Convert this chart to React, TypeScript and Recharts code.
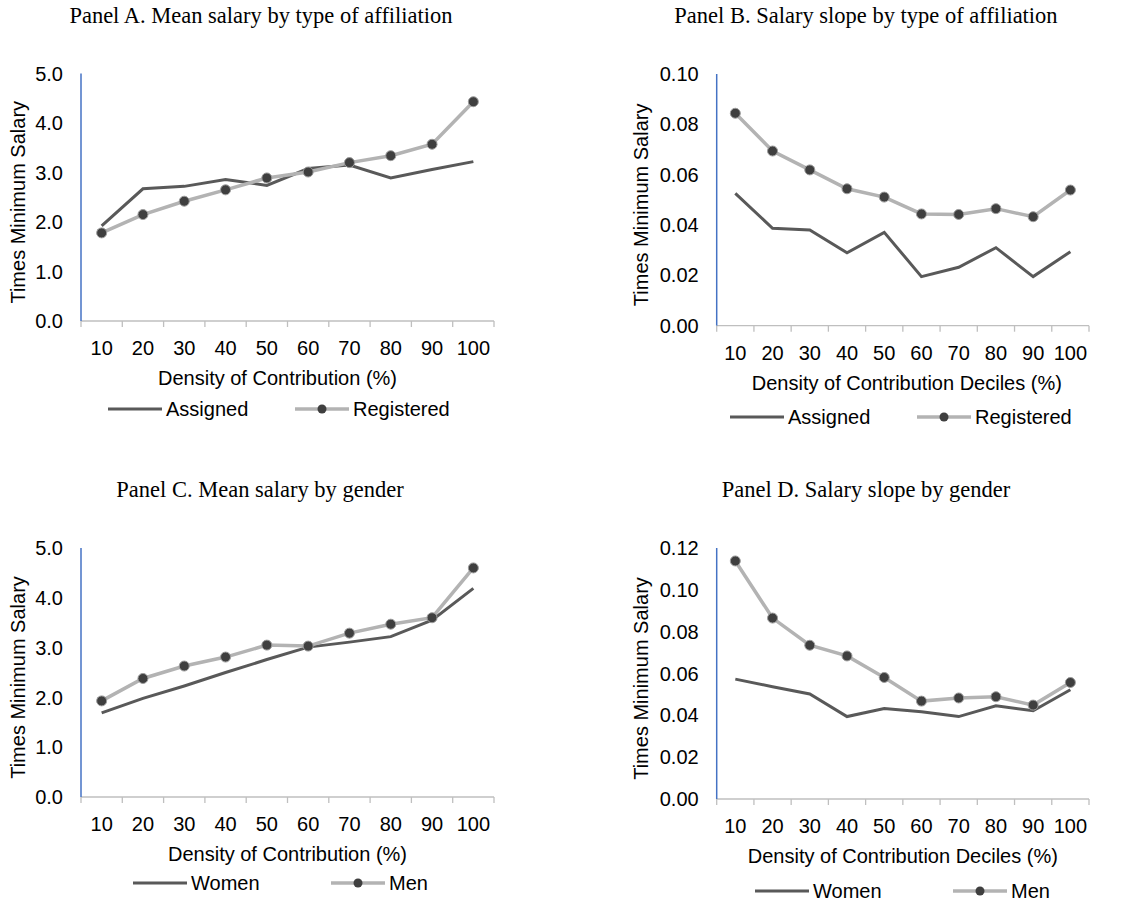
import { LineChart, Line, XAxis, YAxis, Legend } from 'recharts';

const SANS = '"Liberation Sans", Arial, sans-serif';
const SERIF = '"Liberation Serif", "Times New Roman", serif';

const DARK = '#595959';
const LIGHT = '#b3b3b3';
const DOT = '#3f3f3f';
const AXIS_GRAY = '#bfbfbf';
const AXIS_BLUE = '#4472c4';

const TICK_SIZE = 6;
const TICK_MARGIN = 14;

// density of contribution deciles
const deciles = [10, 20, 30, 40, 50, 60, 70, 80, 90, 100];
// labels sit on the deciles, tick marks between them
const decileTicks = [5, 10, 15, 20, 25, 30, 35, 40, 45, 50, 55, 60, 65, 70, 75, 80, 85, 90, 95, 100, 105];

// Panel A
const assignedMean = [1.92, 2.67, 2.72, 2.86, 2.74, 3.08, 3.15, 2.89, 3.06, 3.22];
const registeredMean = [1.78, 2.15, 2.42, 2.65, 2.89, 3.01, 3.2, 3.34, 3.57, 4.43];
// Panel B
const assignedSlope = [0.0526, 0.0387, 0.038, 0.029, 0.0371, 0.0195, 0.0232, 0.031, 0.0195, 0.0294];
const registeredSlope = [0.0844, 0.0694, 0.0619, 0.0544, 0.0511, 0.0444, 0.0442, 0.0465, 0.0433, 0.0539];
// Panel C
const womenMean = [1.69, 1.98, 2.23, 2.5, 2.76, 3.01, 3.11, 3.22, 3.55, 4.19];
const menMean = [1.93, 2.38, 2.63, 2.81, 3.05, 3.03, 3.29, 3.47, 3.6, 4.6];
// Panel D
const womenSlope = [0.0573, 0.0537, 0.0502, 0.0394, 0.0433, 0.0417, 0.0394, 0.0446, 0.0422, 0.0522];
const menSlope = [0.1138, 0.0865, 0.0735, 0.0684, 0.0581, 0.0468, 0.0483, 0.0489, 0.0449, 0.0557];

const meanTicks = [0, 1, 2, 3, 4, 5];
const slopeTicksB = [0, 0.02, 0.04, 0.06, 0.08, 0.1];
const slopeTicksD = [0, 0.02, 0.04, 0.06, 0.08, 0.1, 0.12];

const toRows = (a: number[], b: number[]) => deciles.map((d, i) => ({ decile: d, a: a[i], b: b[i] }));

const DecileTick = (props: any) => {
  const { x, y, payload } = props;
  const axisY = y - TICK_SIZE - TICK_MARGIN;
  if (payload.value % 10 !== 0) {
    return <line x1={x} x2={x} y1={axisY} y2={axisY + TICK_SIZE} stroke={AXIS_GRAY} strokeWidth={1.3} />;
  }
  return (
    <text x={x} y={y} dy="0.71em" textAnchor="middle" fill="#000" fontSize={20} fontFamily={SANS}>
      {payload.value}
    </text>
  );
};

// legend keeps the series order (a first, then b with its marker)
const LegendRow = ({ payload, xs, width }: { payload?: readonly any[]; xs: number[]; width: number }) => {
  const entries = [...(payload ?? [])].sort((p, q) => String(p.dataKey).localeCompare(String(q.dataKey)));
  return (
    <svg width={width} height={30} style={{ display: 'block' }}>
      {entries.map((entry: any, i: number) => {
        const x0 = xs[i] ?? 0;
        const marked = entry.dataKey === 'b';
        return (
          <g key={String(entry.dataKey)}>
            <line x1={x0} x2={x0 + 54} y1={15} y2={15} stroke={marked ? LIGHT : DARK} strokeWidth={marked ? 3.5 : 3} />
            {marked && <circle cx={x0 + 27} cy={15} r={4.5} fill={DOT} />}
            <text x={x0 + 58} y={15} dy="0.355em" fontSize={20} fontFamily={SANS} fill="#000">
              {entry.value}
            </text>
          </g>
        );
      })}
    </svg>
  );
};

type PanelProps = {
  left: number;
  top: number;
  width: number;
  height: number;
  margin: { top: number; right: number; bottom: number; left: number };
  yAxisWidth: number;
  rows: { decile: number; a: number; b: number }[];
  names: [string, string];
  yTicks: number[];
  digits: number;
  xTitle: string;
  xTitleDx: number;
  yTitleX: number;
  legendTop: number;
  legendX: number[];
};

const Panel = (p: PanelProps) => (
  <div style={{ position: 'absolute', left: p.left, top: p.top }}>
    <LineChart width={p.width} height={p.height} data={p.rows} margin={p.margin}>
      <XAxis
        type="number"
        dataKey="decile"
        domain={[5, 105]}
        ticks={decileTicks}
        interval={0}
        height={80}
        tick={DecileTick}
        tickLine={false}
        tickSize={TICK_SIZE}
        tickMargin={TICK_MARGIN}
        axisLine={{ stroke: AXIS_GRAY, strokeWidth: 1.3 }}
        label={(lp: any) => {
          const vb = lp.viewBox ?? { x: 0, y: 0, width: 0, height: 0 };
          return (
            <text
              x={vb.x + vb.width / 2 + p.xTitleDx}
              y={vb.y + 50}
              dy="0.71em"
              textAnchor="middle"
              fontSize={20}
              fontFamily={SANS}
              fill="#000"
            >
              {p.xTitle}
            </text>
          );
        }}
      />
      <YAxis
        type="number"
        domain={[0, p.yTicks[p.yTicks.length - 1]]}
        ticks={p.yTicks}
        interval={0}
        width={p.yAxisWidth}
        tickLine={false}
        tickSize={0}
        tickMargin={18}
        axisLine={{ stroke: AXIS_BLUE, strokeWidth: 1.5 }}
        tick={{ fill: '#000', fontSize: 20, fontFamily: SANS }}
        tickFormatter={(v: number) => v.toFixed(p.digits)}
        label={(lp: any) => {
          const vb = lp.viewBox ?? { x: 0, y: 0, width: 0, height: 0 };
          const cy = vb.y + vb.height / 2 + 5;
          return (
            <text
              x={p.yTitleX}
              y={cy}
              transform={`rotate(-90 ${p.yTitleX} ${cy})`}
              textAnchor="middle"
              fontSize={20}
              fontFamily={SANS}
              fill="#000"
            >
              Times Minimum Salary
            </text>
          );
        }}
      />
      <Line
        type="linear"
        dataKey="a"
        name={p.names[0]}
        stroke={DARK}
        strokeWidth={3}
        dot={false}
        activeDot={false}
        isAnimationActive={false}
      />
      <Line
        type="linear"
        dataKey="b"
        name={p.names[1]}
        stroke={LIGHT}
        strokeWidth={3.5}
        dot={{ r: 5, fill: DOT, stroke: '#9c9c9c', strokeWidth: 1 }}
        activeDot={false}
        isAnimationActive={false}
      />
      <Legend
        layout="horizontal"
        verticalAlign="middle"
        align="center"
        wrapperStyle={{ top: p.legendTop, left: 0, width: p.width, height: 30 }}
        content={(lp: any) => <LegendRow payload={lp.payload} xs={p.legendX} width={p.width} />}
      />
    </LineChart>
  </div>
);

const App = () => (
  <div
    style={{
      position: 'absolute',
      left: 0,
      top: 0,
      width: 1141,
      height: 903,
      background: '#fff',
      overflow: 'hidden',
    }}
  >
    <svg width={1141} height={903} style={{ position: 'absolute', left: 0, top: 0 }}>
      <g fontFamily={SERIF} fontSize={22.5} fill="#000" textAnchor="middle">
        <text x={261} y={23}>Panel A. Mean salary by type of affiliation</text>
        <text x={866} y={23}>Panel B. Salary slope by type of affiliation</text>
        <text x={260} y={497}>Panel C. Mean salary by gender</text>
        <text x={866} y={497}>Panel D. Salary slope by gender</text>
      </g>
    </svg>

    <Panel
      left={0}
      top={0}
      width={570}
      height={440}
      margin={{ top: 73.5, right: 76, bottom: 39, left: 0 }}
      yAxisWidth={81}
      rows={toRows(assignedMean, registeredMean)}
      names={['Assigned', 'Registered']}
      yTicks={meanTicks}
      digits={1}
      xTitle="Density of Contribution (%)"
      xTitleDx={-10}
      yTitleX={24.5}
      legendTop={394}
      legendX={[108, 295]}
    />
    <Panel
      left={570}
      top={0}
      width={571}
      height={440}
      margin={{ top: 74, right: 52, bottom: 34.3, left: 0 }}
      yAxisWidth={146.7}
      rows={toRows(assignedSlope, registeredSlope)}
      names={['Assigned', 'Registered']}
      yTicks={slopeTicksB}
      digits={2}
      xTitle="Density of Contribution Deciles (%)"
      xTitleDx={4}
      yTitleX={77.6}
      legendTop={402}
      legendX={[160, 347]}
    />
    <Panel
      left={0}
      top={440}
      width={570}
      height={463}
      margin={{ top: 108, right: 76, bottom: 26, left: 0 }}
      yAxisWidth={81}
      rows={toRows(womenMean, menMean)}
      names={['Women', 'Men']}
      yTicks={meanTicks}
      digits={1}
      xTitle="Density of Contribution (%)"
      xTitleDx={0}
      yTitleX={24.5}
      legendTop={428}
      legendX={[133, 331]}
    />
    <Panel
      left={570}
      top={440}
      width={571}
      height={463}
      margin={{ top: 108, right: 52, bottom: 24, left: 0 }}
      yAxisWidth={146.7}
      rows={toRows(womenSlope, menSlope)}
      names={['Women', 'Men']}
      yTicks={slopeTicksD}
      digits={2}
      xTitle="Density of Contribution Deciles (%)"
      xTitleDx={0}
      yTitleX={77.6}
      legendTop={436}
      legendX={[185, 383]}
    />
  </div>
);

export default App;
